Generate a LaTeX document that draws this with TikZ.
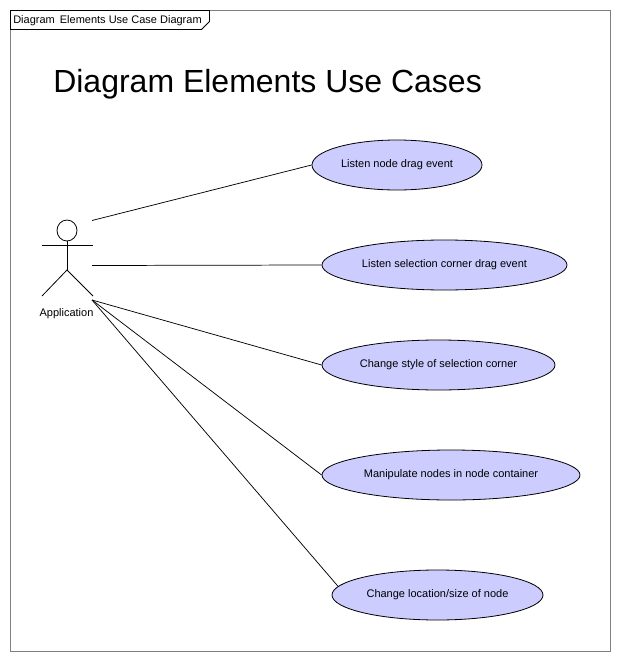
\documentclass[tikz,border=0pt]{standalone}
\usepackage{fontspec}
\setmainfont{Liberation Sans}
\usetikzlibrary{shapes.geometric}
\definecolor{ucfill}{RGB}{204,204,255}
\definecolor{framegray}{RGB}{128,128,128}
\tikzset{
  usecase/.style={ellipse,draw=black,fill=ucfill,line width=0.6pt,inner sep=0pt,font=\fontsize{8.25}{10}\selectfont},
  assoc/.style={draw=black,line width=0.55pt},
  smalltext/.style={inner sep=0pt,font=\fontsize{8.25}{10}\selectfont},
  stick/.style={draw=black,line width=0.6pt}
}
\begin{document}
\begin{tikzpicture}[x=0.75pt,y=-0.75pt]
\useasboundingbox (0,0) rectangle (620,660);
\fill[white] (0,0) rectangle (620,660);
\draw[framegray,line width=0.75pt] (10.5,10.5) rectangle (610.5,651.5);
\draw[stick,fill=white] (10.5,10.5) -- (209.5,10.5) -- (209.5,21.5) -- (201.5,29.5) -- (10.5,29.5) -- cycle;
\node[smalltext,anchor=west] (tabtitle) at (13,20.5) {Diagram\hspace{1.5pt} Elements Use Case Diagram};
\node[inner sep=0pt,anchor=west,font=\fontsize{24}{28}\selectfont] (title) at (53,84.5) {Diagram Elements Use Cases};
\node[usecase,minimum width=127.5pt,minimum height=37.5pt] (uc1) at (397,165) {Listen node drag event};
\node[usecase,minimum width=183.75pt,minimum height=37.5pt] (uc2) at (444.5,265) {Listen selection corner drag event};
\node[usecase,minimum width=174.75pt,minimum height=37.5pt] (uc3) at (438.5,365) {Change style of selection corner};
\node[usecase,minimum width=193.5pt,minimum height=37.5pt] (uc4) at (451,475) {Manipulate nodes in node container};
\node[usecase,minimum width=158.25pt,minimum height=37.5pt] (uc5) at (437.5,595) {Change location/size of node};
% actor
\node[inner sep=0pt] (actorlabel) at (66.5,314) {\fontsize{8.25}{10}\selectfont Application};
\draw[stick] (67,230.5) ellipse [x radius=10,y radius=10.5];
\draw[stick] (42,245) -- (93,245);
\draw[stick] (67,241) -- (67,270);
\draw[stick] (42,296) -- (67,270) -- (93,296);
\coordinate (a1) at (92,220.5);
\coordinate (a2) at (92,265.5);
\coordinate (a3) at (92,300);
\draw[assoc] (a1) -- (uc1.west);
\draw[assoc] (a2) -- (uc2.west);
\draw[assoc] (a3) -- (uc3.west);
\draw[assoc] (a3) -- (uc4.west);
\draw[assoc] (a3) -- (uc5.175);
\end{tikzpicture}
\end{document}
